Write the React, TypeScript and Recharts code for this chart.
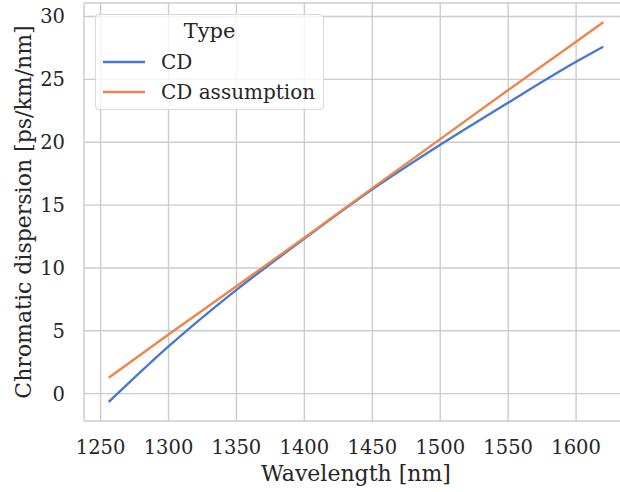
import React from "react";
import { LineChart, Line, XAxis, YAxis, CartesianGrid, ReferenceLine } from "recharts";

const wavelengths = [1256, 1300, 1350, 1400, 1450, 1500, 1550, 1600, 1620];
const cdValues = [-0.67, 3.75, 8.25, 12.33, 16.25, 19.8, 23.15, 26.4, 27.6];
const cdAssumptionValues = [1.26, 4.7, 8.55, 12.4, 16.35, 20.25, 24.15, 28.0, 29.55];
const xTicks = [1250, 1300, 1350, 1400, 1450, 1500, 1550, 1600];
const yTicks = [0, 5, 10, 15, 20, 25, 30];
const seriesNames = ["CD", "CD assumption"];
const legendTitle = "Type";

const data = wavelengths.map((w, i) => ({ wavelength: w, cd: cdValues[i], cdAssumption: cdAssumptionValues[i] }));

const FONT = "'DejaVu Serif', serif";
const TEXT = "#262626";
const GRID = "#cccccc";
const BLUE = "#4878d0";
const ORANGE = "#ee854a";

const X_DOMAIN: [number, number] = [1237.8, 1638.2];
const Y_DOMAIN: [number, number] = [-2.18, 31.08];

function LegendBox() {
  const colors = [BLUE, ORANGE];
  return (
    <div
      style={{
        position: "absolute",
        left: 95,
        top: 14,
        width: 229,
        height: 96,
        boxSizing: "border-box",
        border: "1px solid #d9d9d9",
        borderRadius: 4,
        background: "rgba(255,255,255,0.8)",
        fontFamily: FONT,
        color: TEXT,
      }}
    >
      <div style={{ position: "absolute", top: 4, left: 0, width: "100%", textAlign: "center", fontSize: 21, lineHeight: "24px" }}>{legendTitle}</div>
      {seriesNames.map((n, i) => (
        <div key={n} style={{ position: "absolute", top: 36 + i * 30, left: 7, height: 22, display: "flex", alignItems: "center" }}>
          <svg width={42} height={4} style={{ marginRight: 16 }}>
            <line x1={0} y1={2} x2={42} y2={2} stroke={colors[i]} strokeWidth={2.4} />
          </svg>
          <span style={{ fontSize: 20, whiteSpace: "nowrap" }}>{n}</span>
        </div>
      ))}
    </div>
  );
}

export default function App() {
  return (
    <div style={{ position: "absolute", left: 0, top: 0, width: 620, height: 492, overflow: "hidden", background: "#fff" }}>
      <LineChart width={640} height={492} data={data} margin={{ top: 3, right: 12, bottom: 11, left: 0 }}>
        <CartesianGrid stroke={GRID} strokeWidth={1.4} verticalValues={xTicks} horizontalValues={yTicks} />
        <XAxis
          dataKey="wavelength"
          type="number"
          domain={X_DOMAIN}
          ticks={xTicks}
          allowDataOverflow
          height={60}
          tickLine={false}
          axisLine={{ stroke: GRID, strokeWidth: 1.5 }}
          tick={{ fill: TEXT, fontSize: 19.5, fontFamily: FONT }}
          tickMargin={13}
          label={{ value: "Wavelength [nm]", position: "insideBottom", offset: 0, fill: TEXT, fontSize: 22, fontFamily: FONT }}
        />
        <YAxis
          type="number"
          domain={Y_DOMAIN}
          ticks={yTicks}
          allowDataOverflow
          width={84}
          tickLine={false}
          axisLine={{ stroke: GRID, strokeWidth: 1.5 }}
          tick={{ fill: TEXT, fontSize: 19.5, fontFamily: FONT }}
          tickMargin={13}
          label={{ value: "Chromatic dispersion [ps/km/nm]", angle: -90, position: "insideLeft", offset: 23, fill: TEXT, fontSize: 22, fontFamily: FONT, style: { textAnchor: "middle" } }}
        />
        <ReferenceLine y={Y_DOMAIN[1]} stroke={GRID} strokeWidth={1.5} />
        <Line type="monotone" dataKey="cd" name={seriesNames[0]} stroke={BLUE} strokeWidth={2.4} dot={false} isAnimationActive={false} />
        <Line type="linear" dataKey="cdAssumption" name={seriesNames[1]} stroke={ORANGE} strokeWidth={2.4} dot={false} isAnimationActive={false} />
      </LineChart>
      <LegendBox />
    </div>
  );
}
